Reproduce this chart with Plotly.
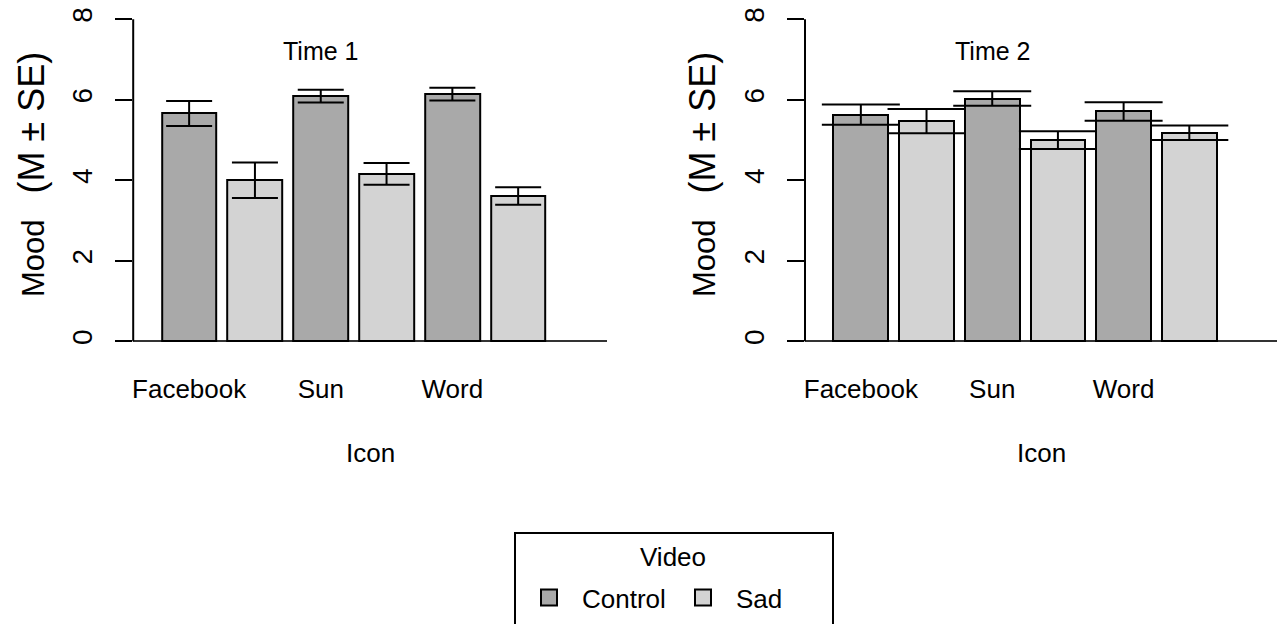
import plotly.graph_objects as go

# ---- data ----
icons = ["Facebook", "Sun", "Word"]
videos = ["Control", "Sad"]
time1_control = [5.66, 6.09, 6.14]
time1_control_se = [0.31, 0.16, 0.16]
time1_sad = [4.00, 4.16, 3.61]
time1_sad_se = [0.44, 0.27, 0.22]
time2_control = [5.63, 6.03, 5.71]
time2_control_se = [0.25, 0.18, 0.23]
time2_sad = [5.47, 5.00, 5.18]
time2_sad_se = [0.30, 0.22, 0.18]
y_ticks = [0, 2, 4, 6, 8]

FONT = "Liberation Sans, Arial, sans-serif"
OFF = 8  # default page body margin
W, H = 1285 - OFF, 624 - OFF
C_CTRL = "#A9A9A9"
C_SAD = "#D3D3D3"

ctrl_pos = [0.7 + 2.4 * i for i in range(len(icons))]
sad_pos = [1.9 + 2.4 * i for i in range(len(icons))]

fig = go.Figure()

panels = [
    ("x", "y", time1_control, time1_control_se, time1_sad, time1_sad_se, 23),
    ("x2", "y2", time2_control, time2_control_se, time2_sad, time2_sad_se, 39),
]
for xa, ya, cm, cse, sm, sse, capw in panels:
    for pos, vals, se, col in [(ctrl_pos, cm, cse, C_CTRL), (sad_pos, sm, sse, C_SAD)]:
        fig.add_trace(go.Bar(
            x=pos, y=vals, width=1.0, xaxis=xa, yaxis=ya,
            marker=dict(color=col, line=dict(color="black", width=2)),
            error_y=dict(type="data", array=se, visible=True, color="black",
                         thickness=2, width=capw),
            showlegend=False, hoverinfo="skip",
        ))

# legend proxies
for name, col in zip(videos, [C_CTRL, C_SAD]):
    fig.add_trace(go.Scatter(
        x=[None], y=[None], mode="markers", name=name,
        marker=dict(symbol="square", size=20, color=col,
                    line=dict(color="black", width=2)),
        showlegend=True,
    ))

def px_x(p):
    return (p - OFF) / W

def px_y(p):
    return 1 - (p - OFF) / H

ydom = [px_y(354.2), 1.0]
xdom1 = [px_x(133.2), px_x(607.0)]
xdom2 = [px_x(805.0), px_x(1278.0)]

xcommon = dict(range=[-0.32, 8.32], showgrid=False, zeroline=False, showline=False,
               tickvals=ctrl_pos, ticktext=icons, ticks="",
               tickfont=dict(family=FONT, size=26, color="black"),
               ticklabelstandoff=17, fixedrange=True)
ycommon = dict(range=[-0.32, 8.28], showgrid=False, zeroline=True,
               zerolinecolor="#333333", zerolinewidth=1.5, showline=False,
               tickvals=y_ticks, ticks="outside", ticklen=17, tickwidth=2,
               tickcolor="black", tickangle=-90, ticklabeloverflow="allow",
               tickfont=dict(family=FONT, size=28, color="black"),
               ticklabelstandoff=12, fixedrange=True)

fig.update_layout(
    width=W, height=H, margin=dict(l=0, r=0, t=0, b=0),
    paper_bgcolor="white", plot_bgcolor="white",
    barmode="overlay", bargap=0,
    font=dict(family=FONT, size=26, color="black"),
    xaxis=dict(domain=xdom1, anchor="y", **xcommon),
    yaxis=dict(domain=ydom, anchor="x", **ycommon),
    xaxis2=dict(domain=xdom2, anchor="y2", **xcommon),
    yaxis2=dict(domain=ydom, anchor="x2", **ycommon),
    legend=dict(orientation="h", x=px_x(516), y=px_y(574), xanchor="left", yanchor="top",
                bgcolor="rgba(0,0,0,0)", borderwidth=0,
                font=dict(family=FONT, size=26, color="black"),
                itemsizing="trace", itemwidth=56, entrywidth=83, tracegroupgap=0),
    showlegend=True,
)

shapes = []
# y axis lines from 0 to 8
for xd, ya in [(xdom1, "y"), (xdom2, "y2")]:
    shapes.append(dict(type="line", xref="paper", yref=ya, x0=xd[0], x1=xd[0],
                       y0=y_ticks[0], y1=y_ticks[-1], line=dict(color="black", width=2)))
# legend box (extends past the bottom edge)
shapes.append(dict(type="rect", xref="paper", yref="paper",
                   x0=px_x(515), x1=px_x(833), y0=px_y(640), y1=px_y(533),
                   line=dict(color="black", width=2), fillcolor="rgba(0,0,0,0)"))
fig.update_layout(shapes=shapes)

ytitle = "Mood   <span style='font-size:36px'>(M ± SE)</span>"
ann = []
for xa, ya, ttl in [("x", "y", "Time 1"), ("x2", "y2", "Time 2")]:
    ann.append(dict(x=3.1, y=7.2, xref=xa, yref=ya, text=ttl, showarrow=False,
                    xanchor="center", yanchor="middle",
                    font=dict(family=FONT, size=25, color="black")))
    ann.append(dict(x=4.0, y=px_y(453), xref=xa, yref="paper", text="Icon", showarrow=False,
                    xanchor="center", yanchor="middle",
                    font=dict(family=FONT, size=26, color="black")))
for xt in [32, 703]:
    ann.append(dict(x=px_x(xt), y=px_y(175), xref="paper", yref="paper", text=ytitle,
                    textangle=-90, showarrow=False, xanchor="center", yanchor="middle",
                    font=dict(family=FONT, size=31, color="black")))
# legend title
ann.append(dict(x=px_x(673), y=px_y(557), xref="paper", yref="paper", text="Video",
                showarrow=False, xanchor="center", yanchor="middle",
                font=dict(family=FONT, size=26, color="black")))
fig.update_layout(annotations=ann)

fig.write_html("out.html")
